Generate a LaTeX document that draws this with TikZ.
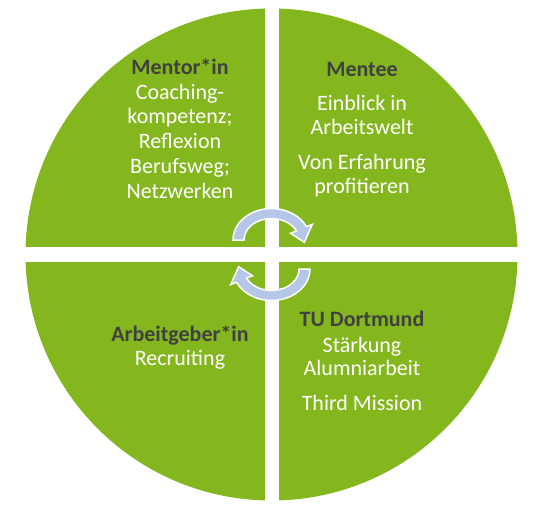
\documentclass[tikz,border=0pt]{standalone}
\usepackage{fontspec}
\setmainfont{Carlito}
\usepackage{xcolor}
\usepackage{tikz}

\definecolor{quadgreen}{HTML}{84B71E}
\definecolor{headgray}{HTML}{404040}
\definecolor{arrowblue}{HTML}{B4C7E7}

\tikzset{
  quadtext/.style={align=center, text=white, inner sep=0pt, anchor=north,
    font=\fontsize{22}{23.5}\selectfont},
  cyclearrow/.style={fill=arrowblue, draw=white, line width=1.5pt}
}
\newcommand{\quadhead}[1]{{\bfseries\color{headgray}#1}}

\begin{document}
\begin{tikzpicture}[x=1pt,y=1pt]
\useasboundingbox (0,0) rectangle (543,515);

% green disc
\fill[quadgreen] (271.5,260.5) circle (246);

% white cross between the quarters
\fill[white] (264.5,0) rectangle (278.5,515);
\fill[white] (0,253) rectangle (543,268);

% texts of the quarters
\node[quadtext, font=\fontsize{22}{24.8}\selectfont] (mentor) at (180,456.7)
  {\quadhead{Mentor*in}\\ Coaching-\\ kompetenz;\\ Reflexion\\ Berufsweg;\\ Netzwerken};
\node[quadtext] (mentee) at (362,453.2)
  {\quadhead{Mentee}\\[11pt] Einblick in\\ Arbeitswelt\\[12pt] Von Erfahrung\\ profitieren};
\node[quadtext] (employer) at (180,189.2)
  {\quadhead{Arbeitgeber*in}\\ Recruiting};
\node[quadtext] (tudo) at (362,203.7)
  {\quadhead{TU Dortmund}\\[2pt] Stärkung\\ Alumniarbeit\\[11pt] Third Mission};

% circular arrows in the middle
\foreach \rot in {0,180}{
\begin{scope}[rotate around={\rot:(271.5,260.5)}]
\draw[cyclearrow] (233,275)
  arc[start angle=180, end angle=25, x radius=38.5, y radius=31.5]
  -- ({271.5+45*cos(25)},{275+37*sin(25)})
  -- ({271.5+33*cos(-5)},{275+26.5*sin(-5)})
  -- ({271.5+21*cos(25)},{275+16*sin(25)})
  -- ({271.5+27.5*cos(25)},{275+21.5*sin(25)})
  arc[start angle=25, end angle=180, x radius=27.5, y radius=21.5]
  -- cycle;
\end{scope}
}
\end{tikzpicture}
\end{document}
